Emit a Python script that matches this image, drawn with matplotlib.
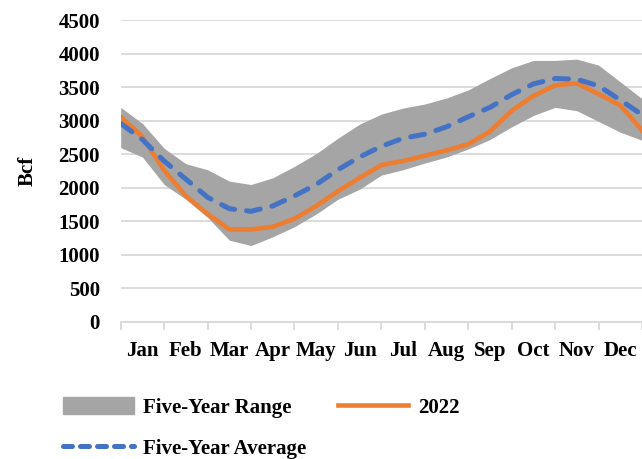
import matplotlib.pyplot as plt
from matplotlib.patches import Patch
from matplotlib.lines import Line2D
import numpy as np

plt.rcParams['font.family'] = ['Liberation Serif', 'DejaVu Serif']
plt.rcParams['font.weight'] = 'bold'

months = ['Jan', 'Feb', 'Mar', 'Apr', 'May', 'Jun', 'Jul', 'Aug', 'Sep', 'Oct', 'Nov', 'Dec']

# semi-monthly readings, position in months from 1 Jan
pos = np.arange(25) * 0.5

range_hi = [3200, 2960, 2590, 2360, 2270, 2100, 2050, 2150, 2320, 2510, 2740, 2950, 3100,
            3190, 3250, 3340, 3460, 3630, 3790, 3900, 3900, 3920, 3830, 3580, 3330]
range_lo = [2600, 2460, 2050, 1830, 1560, 1220, 1140, 1270, 1420, 1610, 1830, 1980, 2190,
            2270, 2370, 2460, 2580, 2720, 2910, 3080, 3200, 3150, 2990, 2830, 2710]
avg5 = [2960, 2720, 2400, 2130, 1860, 1690, 1650, 1730, 1880, 2050, 2270, 2460, 2620,
        2740, 2800, 2910, 3060, 3200, 3390, 3550, 3630, 3620, 3520, 3310, 3090]
y2022 = [3060, 2760, 2260, 1880, 1610, 1380, 1380, 1420, 1540, 1730, 1950, 2150, 2340,
         2400, 2480, 2560, 2650, 2840, 3150, 3370, 3530, 3560, 3400, 3230, 2860]

c_range = '#A5A5A5'
c_2022 = '#ED7D31'
c_avg = '#4472C4'
fs = 15

fig = plt.figure(figsize=(6.42, 4.59), dpi=100)
ax = fig.add_axes([0.188, 0.2985, 0.812, 0.6575])

ax.fill_between(pos, range_lo, range_hi, color=c_range, lw=0, zorder=2)
ax.plot(pos, y2022, color=c_2022, lw=3.3, zorder=3)
ax.plot(pos, avg5, color=c_avg, lw=3.6, dashes=(2.8, 2.4), dash_capstyle='round', zorder=4)

ax.set_xlim(0, 12)
ax.set_ylim(0, 4500)
ax.set_yticks(np.arange(0, 4501, 500))
ax.grid(axis='y', color='#D9D9D9', lw=1.3, zorder=0)
ax.set_axisbelow(True)

ax.set_xticks(np.arange(13))
ax.set_xticklabels([])
ax.set_xticks(np.arange(12) + 0.5, minor=True)
ax.set_xticklabels(months, minor=True, fontsize=fs)
ax.tick_params(axis='x', which='major', length=6, color='#D9D9D9', width=1.3)
ax.tick_params(axis='x', which='minor', length=0, pad=14)
ax.tick_params(axis='y', length=0, labelsize=fs, pad=15)

for s in ['left', 'right', 'top']:
    ax.spines[s].set_visible(False)
ax.spines['bottom'].set_color('#D9D9D9')
ax.spines['bottom'].set_linewidth(1.3)

ax.set_ylabel('Bcf', fontsize=fs, fontweight='bold', labelpad=15)

handles = [Patch(color=c_range),
           Line2D([], [], color=c_avg, lw=3.6, dashes=(1.8, 1.6), dash_capstyle='round'),
           Line2D([], [], color=c_2022, lw=3.3)]
labels = ['Five-Year Range', 'Five-Year Average', '2022']
fig.legend(handles, labels, loc='upper left', bbox_to_anchor=(0.085, 0.153), ncol=2,
           frameon=False, fontsize=fs, handlelength=3.4, handleheight=0.9,
           handletextpad=0.45, columnspacing=1.5, labelspacing=0.95, borderaxespad=0)

fig.savefig('out.png', dpi=100)
